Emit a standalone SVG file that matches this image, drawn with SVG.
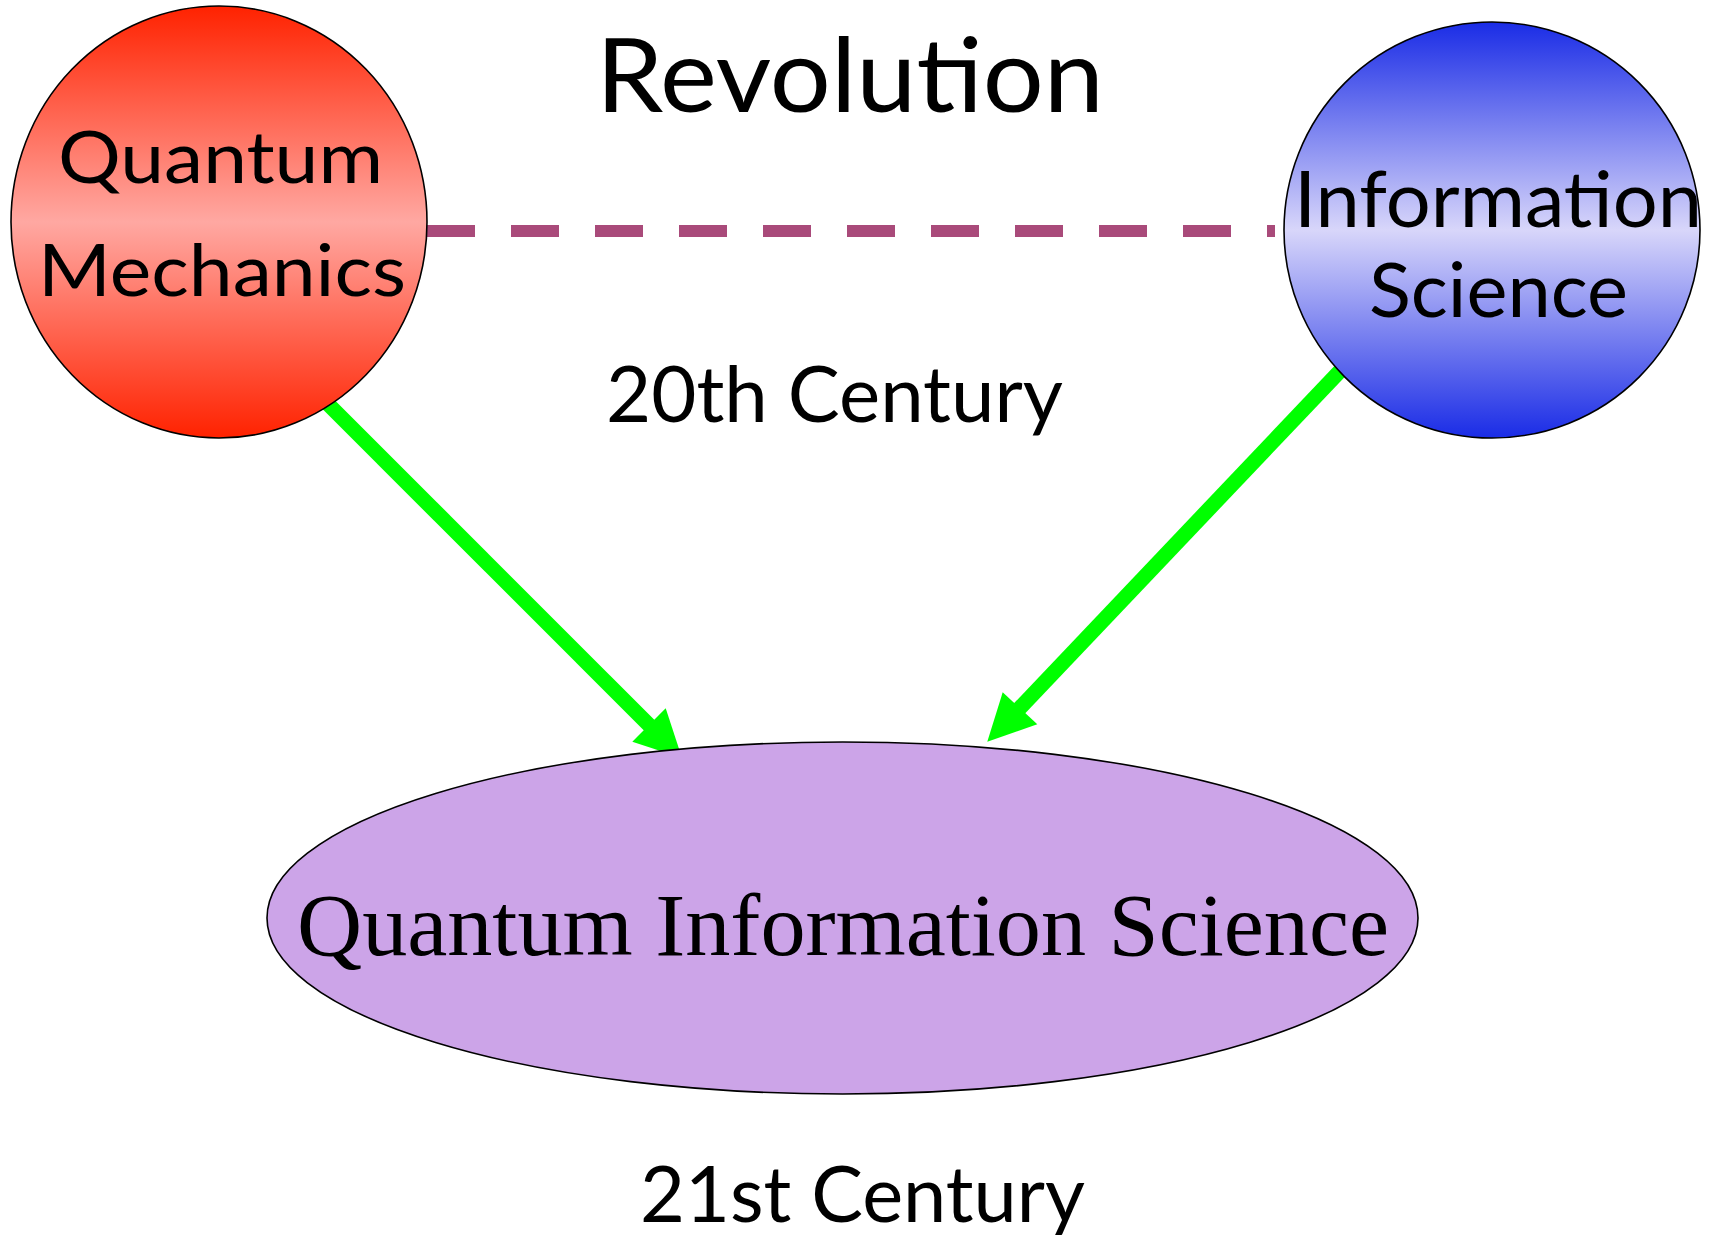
<svg xmlns="http://www.w3.org/2000/svg" width="1714" height="1235" viewBox="0 0 1714 1235">
<style>
.lbl{font-family:Lato,"Open Sans","Liberation Sans",sans-serif;fill:#000}
.ser{font-family:"Liberation Serif","Times New Roman",serif;fill:#000}
.node{stroke:#000;stroke-width:1.6}
.arrow{stroke:#00FF00;stroke-width:15;fill:none}
.head{fill:#00FF00}
</style>
<defs>
<linearGradient id="gRed" x1="0" y1="0" x2="0" y2="1">
<stop offset="0" stop-color="#FF2200"/>
<stop offset="0.5" stop-color="#FFA8A2"/>
<stop offset="1" stop-color="#FF2200"/>
</linearGradient>
<linearGradient id="gBlue" x1="0" y1="0" x2="0" y2="1">
<stop offset="0" stop-color="#1A2CE6"/>
<stop offset="0.5" stop-color="#D8D6FA"/>
<stop offset="1" stop-color="#1A2CE6"/>
</linearGradient>
</defs>
<rect width="1714" height="1235" fill="#FFFFFF"/>
<g id="connectors">
<line x1="427" y1="231" x2="1275" y2="231" stroke="#A94A7A" stroke-width="12" stroke-dasharray="48 36"/>
<line class="arrow" x1="309" y1="385" x2="652" y2="728"/>
<polygon class="head" points="665.7,708.3 682,758 632.3,741.7"/>
<line class="arrow" x1="1360" y1="350" x2="1017" y2="711"/>
<polygon class="head" points="1002.7,692.3 987.3,741.7 1037.3,724.3"/>
</g>
<g id="quantum-mechanics">
<ellipse class="node" cx="219" cy="222" rx="208" ry="216" fill="url(#gRed)"/>
<text class="lbl" x="58" y="183" font-size="72" textLength="325" lengthAdjust="spacingAndGlyphs">Quantum</text>
<text class="lbl" x="38" y="296" font-size="72" textLength="368" lengthAdjust="spacingAndGlyphs">Mechanics</text>
</g>
<g id="information-science">
<circle class="node" cx="1492" cy="230" r="208" fill="url(#gBlue)"/>
<text class="lbl" x="1294" y="227" font-size="78" textLength="408" lengthAdjust="spacingAndGlyphs">Information</text>
<text class="lbl" x="1369" y="317" font-size="76" textLength="259" lengthAdjust="spacingAndGlyphs">Science</text>
</g>
<g id="quantum-information-science">
<ellipse class="node" cx="842.5" cy="918" rx="575.5" ry="176" fill="#CCA4E8"/>
<text class="ser" x="297" y="955" font-size="88" textLength="1092" lengthAdjust="spacingAndGlyphs">Quantum Information Science</text>
</g>
<g id="labels">
<text class="lbl" x="596" y="112" font-size="103" textLength="508" lengthAdjust="spacingAndGlyphs">Revolution</text>
<text class="lbl" x="606" y="422" font-size="77" textLength="457" lengthAdjust="spacingAndGlyphs">20th Century</text>
<text class="lbl" x="640" y="1222" font-size="77" textLength="445" lengthAdjust="spacingAndGlyphs">21st Century</text>
</g>
</svg>
